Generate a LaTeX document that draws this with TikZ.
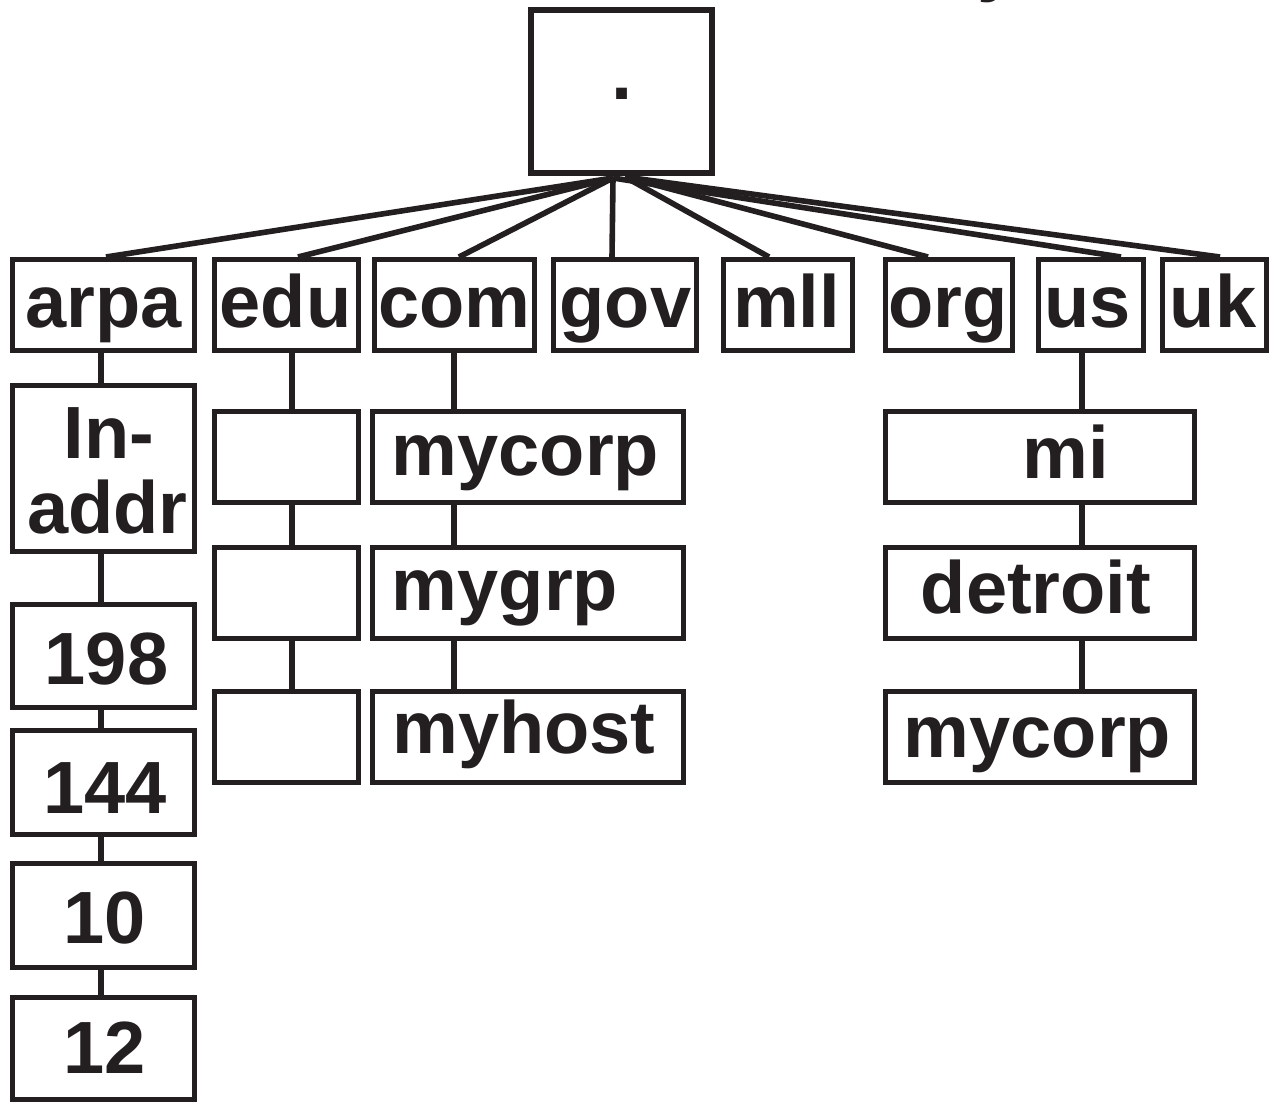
\documentclass[tikz,border=0pt]{standalone}
\usepackage{fontspec}
\setmainfont{Liberation Sans}
\usetikzlibrary{calc}
\definecolor{ink}{HTML}{231F20}
% a box given by the centre line of its frame: name, x1, y1, x2, y2
\newcommand\dnsbox[6][box]{%
  \node[#1, minimum width={(#5-#3)*0.5pt}, minimum height={(#6-#4)*0.5pt}]
    (#2) at ({(#3+#5)/2},{(#4+#6)/2}) {};}
\begin{document}
\begin{tikzpicture}[x=0.5pt,y=-0.5pt,
  box/.style={draw=ink, line width=2.5pt, rectangle, inner sep=0pt},
  rootbox/.style={draw=ink, line width=3pt, rectangle, inner sep=0pt},
  lbl/.style={text=ink, font=\fontsize{37}{37}\selectfont\bfseries, anchor=base, inner sep=0pt},
  link/.style={draw=ink, line width=2.8pt}]
\useasboundingbox (0,0) rectangle (1269,1102);

% root of the name tree
\dnsbox[rootbox]{root}{531}{10}{712}{173}
\node[lbl, font=\fontsize{38}{38}\selectfont\bfseries] (root-t) at (622,100) {.};
\coordinate (hubL) at (613,178);
\coordinate (hubR) at (625,177);

% top level domains
\dnsbox{arpa}{12.5}{259.5}{194.5}{350.5}
\dnsbox{edu}{214.5}{259.5}{358.5}{350.5}
\dnsbox{com}{374.5}{259.5}{534.5}{350.5}
\dnsbox{gov}{553.5}{259.5}{696.5}{350.5}
\dnsbox{mll}{723.5}{259.5}{852.5}{350.5}
\dnsbox{org}{885.5}{259.5}{1012.5}{350.5}
\dnsbox{us}{1038.5}{259.5}{1143.5}{350.5}
\dnsbox{uk}{1162.5}{259.5}{1266.5}{350.5}
\node[lbl] (arpa-t) at (103.5,327) {arpa};
\node[lbl] (edu-t) at (285.5,327) {edu};
\node[lbl] (com-t) at (454.5,327) {com};
\node[lbl] (gov-t) at (625.5,327) {gov};
\node[lbl] (mll-t) at (786.5,327) {mll};
\node[lbl] (org-t) at (948,327) {org};
\node[lbl] (us-t) at (1087.5,327) {us};
\node[lbl] (uk-t) at (1213,327) {uk};

% fan from the root
\draw[link] (hubL) -- ($(arpa.north)+(2.5,0)$);
\draw[link] (hubL) -- ($(edu.north)+(11.5,0)$);
\draw[link] (hubL) -- ($(com.north)+(4.5,0)$);
\draw[link] (hubL) -- ($(gov.north)+(-13,0)$);
\draw[link] (hubR) -- ($(mll.north)+(-19,0)$);
\draw[link] (hubR) -- ($(org.north)+(-21,0)$);
\draw[link] (hubL) -- ($(us.north)+(30,0)$);
\draw[link] (hubR) -- ($(uk.north)+(5.5,0)$);

% reverse lookup branch under arpa
\dnsbox{inaddr}{12.5}{385.5}{194.5}{551.5}
\dnsbox{n198}{12.5}{604.5}{194.5}{707.5}
\dnsbox{n144}{12.5}{730.5}{194.5}{834.5}
\dnsbox{n10}{12.5}{863.5}{194.5}{967.5}
\dnsbox{n12}{12.5}{997.5}{194.5}{1099.5}
\node[lbl] (inaddr-t1) at (109,458) {In-};
\node[lbl] (inaddr-t2) at (107.5,533) {addr};
\node[lbl] (n198-t) at (106.5,684) {198};
\node[lbl] (n144-t) at (105,813) {144};
\node[lbl] (n10-t) at (104.5,943) {10};
\node[lbl] (n12-t) at (104.5,1073) {12};
\coordinate (colA) at (101,0);
\draw[link] (arpa.south -| colA) -- (inaddr.north -| colA);
\draw[link] (inaddr.south -| colA) -- (n198.north -| colA);
\draw[link] (n198.south -| colA) -- (n144.north -| colA);
\draw[link] (n144.south -| colA) -- (n10.north -| colA);
\draw[link] (n10.south -| colA) -- (n12.north -| colA);

% empty chain under edu
\dnsbox{edu1}{214.5}{411.5}{358.5}{502.5}
\dnsbox{edu2}{214.5}{547.5}{358.5}{638.5}
\dnsbox{edu3}{214.5}{691.5}{358.5}{782.5}
\coordinate (colE) at (292,0);
\draw[link] (edu.south -| colE) -- (edu1.north -| colE);
\draw[link] (edu1.south -| colE) -- (edu2.north -| colE);
\draw[link] (edu2.south -| colE) -- (edu3.north -| colE);

% chain under com
\dnsbox{mycorp}{372.5}{411.5}{683.5}{502.5}
\dnsbox{mygrp}{372.5}{547.5}{683.5}{638.5}
\dnsbox{myhost}{372.5}{691.5}{683.5}{782.5}
\node[lbl] (mycorp-t) at (525.5,475) {mycorp};
\node[lbl] (mygrp-t) at (505,610) {mygrp};
\node[lbl] (myhost-t) at (524,753) {myhost};
\coordinate (colC) at (454,0);
\draw[link] (com.south -| colC) -- (mycorp.north -| colC);
\draw[link] (mycorp.south -| colC) -- (mygrp.north -| colC);
\draw[link] (mygrp.south -| colC) -- (myhost.north -| colC);

% chain under us
\dnsbox{mi}{885.5}{411.5}{1194.5}{502.5}
\dnsbox{detroit}{885.5}{547.5}{1194.5}{638.5}
\dnsbox{usmycorp}{885.5}{691.5}{1194.5}{782.5}
\node[lbl] (mi-t) at (1066,478) {mi};
\node[lbl] (detroit-t) at (1036,613) {detroit};
\node[lbl] (usmycorp-t) at (1037.5,757) {mycorp};
\coordinate (colU) at (1082,0);
\draw[link] (us.south -| colU) -- (mi.north -| colU);
\draw[link] (mi.south -| colU) -- (detroit.north -| colU);
\draw[link] (detroit.south -| colU) -- (usmycorp.north -| colU);

% lower tip of a letter standing above the top edge
\node[lbl, anchor=base west] (cut-t) at (977,-12) {y};
\end{tikzpicture}
\end{document}
